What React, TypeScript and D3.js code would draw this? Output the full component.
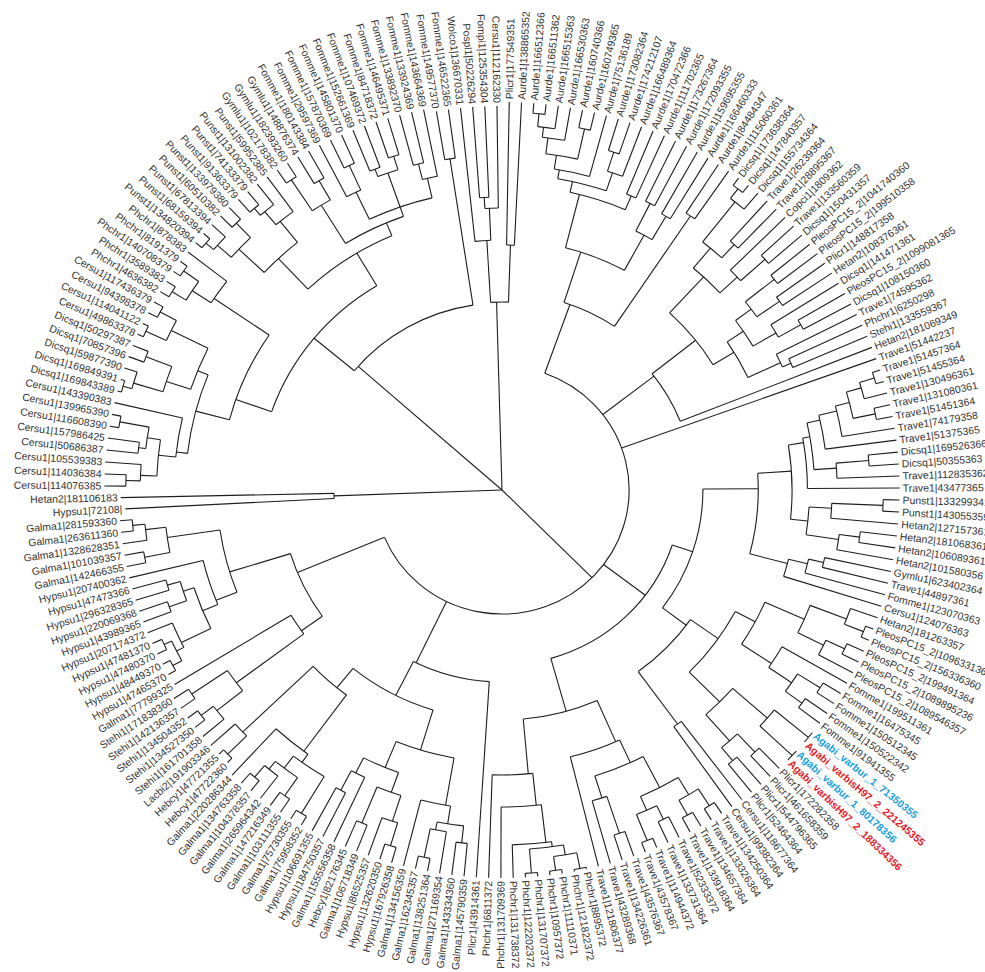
import React from 'react';
import * as d3 from 'd3';

const leafNames: string[] = [
  'Cersu1|114076385','Cersu1|114036384','Cersu1|105539383','Cersu1|50686387','Cersu1|157986425','Cersu1|116608390','Cersu1|139965390','Cersu1|143390383',
  'Dicsq1|169843389','Dicsq1|169849391','Dicsq1|59877390','Dicsq1|70857396','Dicsq1|50297387','Cersu1|49863378','Cersu1|114041122','Cersu1|94398378','Cersu1|117436379',
  'Phchr1|4636382','Phchr1|3589383','Phchr1|140708379','Phchr1|8191379','Phchr1|878383',
  'Punst1|134820394','Punst1|68159394','Punst1|67813394','Punst1|60510382','Punst1|133979380','Punst1|91363379','Punst1|74133379','Punst1|131002382','Punst1|59952385',
  'Gymlu1|102178382','Gymlu1|182393260','Gymlu1|148876374','Fomme1|180143384',
  'Fomme1|29597369','Fomme1|157870369','Fomme1|145801370','Fomme1|152661369','Fomme1|107469372','Fomme1|84718372','Fomme1|146495371','Fomme1|133892370','Fomme1|133924369','Fomme1|143664369','Fomme1|149577370','Fomme1|146522365',
  'Wolco1|136670331','Pospl1|50226294','Fompi1|125354304','Cersu1|112162330','Plicr1|177549351',
  'Aurde1|138865352','Aurde1|166512366','Aurde1|166511362','Aurde1|166515363','Aurde1|166530363','Aurde1|160740366','Aurde1|160749365','Aurde1|75136189','Aurde1|173082364','Aurde1|174212107','Aurde1|166489364','Aurde1|170472366','Aurde1|111702365','Aurde1|173267364','Aurde1|172093355','Aurde1|159695355','Aurde1|166460333','Aurde1|84484347','Aurde1|115060361',
  'Dicsq1|173638364','Dicsq1|147840357','Dicsq1|155734364','Trave1|26239364','Trave1|28895367','Copci1|1809362','Trave1|133560359','Dicsq1|150431357','PleosPC15_2|1041740360','PleosPC15_2|199510358','Plicr1|148817358','Hetan2|108376361','Dicsq1|141471361','PleosPC15_2|1099081365','Dicsq1|108150360','Trave1|74595362','Phchr1|6250298','Stehi1|133559367','Hetan2|181069349',
  'Trave1|51442237','Trave1|51457364','Trave1|51455364','Trave1|130496361','Trave1|131080361','Trave1|51451364','Trave1|74179358','Trave1|51375365','Dicsq1|169526366','Dicsq1|50355363','Trave1|112835362','Trave1|43477365',
  'Punst1|133299341','Punst1|143055359','Hetan2|127157361','Hetan2|181068361','Hetan2|106089361','Hetan2|101580356','Gymlu1|623402364','Trave1|44897361','Fomme1|123070363','Cersu1|124076363',
  'Hetan2|181263357','PleosPC15_2|1096331360','PleosPC15_2|156336360','PleosPC15_2|199491364','PleosPC15_2|1089895236','PleosPC15_2|1089546357','Fomme1|199511361','Fomme1|16475345','Fomme1|150512345','Fomme1|150522342','Fomme1|91941355',
  'Agabi_varbur_1_71350355','Agabi_varbisH97_2_221245355','Agabi_varbur_1_80178356','Agabi_varbisH97_2_188334356',
  'Plicr1|172282358','Plicr1|461658359','Plicr1|544796365','Plicr1|52464364','Cersu1|118677364','Cersu1|99382364',
  'Trave1|134250364','Trave1|133326364','Trave1|134657364','Trave1|133918364','Trave1|52333372','Trave1|133731364','Trave1|114944372','Trave1|43578367','Trave1|43576367','Trave1|134226361','Trave1|43289368','Trave1|121806377',
  'Phchr1|8895372','Phchr1|121822372','Phchr1|11110371','Phchr1|10957372','Phchr1|131707372','Phchr1|122202372','Phchr1|131738372','Phchr1|131709369','Phchr1|6811372',
  'Plicr1|43914361','Galma1|145790359','Galma1|143334360','Galma1|271169354','Galma1|138251364','Galma1|162345357','Galma1|134156359','Hypsu1|167926358','Hypsu1|132620350','Hypsu1|86525357','Galma1|106718349','Hebcy1|82176345','Galma1|155556358','Hypsu1|184750357','Hypsu1|106691355',
  'Galma1|75958352','Galma1|75730355','Galma1|103111355','Galma1|147216349','Galma1|265964342','Galma1|104378357','Galma1|134763358','Galma1|220286344','Hebcy1|47722360','Hebcy1|47721355','Lacbi2|191903346',
  'Stehi1|161701358','Stehi1|134527350','Stehi1|134504352','Stehi1|142136357','Stehi1|171838360','Galma1|77799325',
  'Hypsu1|47465370','Hypsu1|48449370','Hypsu1|47480370','Hypsu1|47481370','Hypsu1|207174372','Hypsu1|43989365','Hypsu1|220069368','Hypsu1|296328365','Hypsu1|47473366','Hypsu1|207400362',
  'Galma1|142466355','Galma1|101039357','Galma1|1328628351','Galma1|263611360','Galma1|281593360','Hypsu1|72108|','Hetan2|181106183'
];

const blueLeaves: string[] = ['Agabi_varbur_1_71350355', 'Agabi_varbur_1_80178356'];
const redLeaves: string[] = ['Agabi_varbisH97_2_221245355', 'Agabi_varbisH97_2_188334356'];

// tip depth of leaves that end short of the common tip line: [first leaf, last leaf, depth]
const shortTips: [number, number, number][] = [
  [46, 51, 384],
  [178, 185, 382],
  [186, 201, 374],
  [202, 202, 368],
  [203, 203, 372],
];

// clades: leaf numbers (1-based), internal node depth after ':'
const cladeCersu = '(8,((3,(1,2):367):353,((4,5):357,(6,7):379):350):337):320';
const cladeDicsq = '((((9,10):384,11):375,(12,13):372):345,((14,15):382,(16,17):378):360):320';
const cladePhchr = '(((18,19):378,(20,21):380):362,22):340';
const cladePunst = '((((23,24):380,25):370,(26,27):372):352,(((28,29):371,30):362,31):345):318';
const cladeGymlu = '((32,33):372,(34,35):357):335';
const cladeFomme = '((36,(37,38):357):330,((39,40):344,(41,42):350):336,((43,44):336,45):320):300';
const cladeA = '(((' + cladeCersu + ',' + cladeDicsq + '):309,' + cladePhchr + '):275,(' + cladePunst + ',(' + cladeGymlu + ',' + cladeFomme + '):290):276):238';
const cladeTopLeft = '(' + cladeA + ',(46,47):335):187';
const cladeTop = '((48,((49,50):293,51):282):250,(52,53):245):188';
const cladeAurde = '((((((54,55):378,56):365,57):355,(58,59):370):339,60):325,((61,62):355,63):335):316';
const cladeAurdeAll = '((((' + cladeAurde + ',(64,65):320):305,((66,67):321,(68,69):317):290):250,(70,71):330):197';
const cladeDicsqA = '((((72,73):379,74):367,(75,76):334):316,(77,(78,79):345):313):290';
const cladeDicsqB = '((((80,81):339,(82,83):330):303,(84,(85,86):335):310):284,(87,(88,89):309):300):265';
const cladeUpperRight = '((' + cladeDicsqA + ',' + cladeDicsqB + '):241,90):187';
const cladeTrave = '(((((((92,93):380,94):365,(95,96):372):350,97):336,98):318,((99,100):359,101):327):305,102):298';
const cladePH = '(((103,104):372,105):322,((106,107):352,108):332):300';
const cladeLadder = '(((109,110):322,111):307,112):288';
const cladeR = '((' + cladeTrave + ',' + cladePH + '):283,' + cladeLadder + '):250';
const cladePleos = '(((113,(114,115):380):360,((116,117):370,118):350):322,(119,((120,121):368,(122,123):362):342):315):280';
const cladeAgabi = '(((124,125):388,(126,127):388):345,((128,129):360,(130,131):352):335):300';
const cladeBR = '((' + cladePleos + ',' + cladeAgabi + '):258,(132,133):290):225';
const cladeT134 = '(((((134,135):375,(136,137):372):355,((138,139):365,(140,141):378):350):335,((142,143):362,144):323):300,145):275';
const cladePh146 = '((((((146,147):386,(148,149):384):370,(150,151):384):360,152):355,153):317,154):285';
const cladeBottomRight = '(((' + cladeR + ',' + cladeBR + '):196,(' + cladeT134 + ',' + cladePh146 + '):230):175)';
const cladeG156 = '(((156,157):355,(158,(159,160):375):346):338,161):320';
const cladeH162 = '((((162,163):372,164):348,(165,166):360):321,(167,(168,169):339):317):300';
const cladeG170 = '((((170,171):378,((172,173):372,(174,(175,176):375):360):350):335,177):325,((178,179):376,180):350):255';
const cladeBottomLeft = '(155,((' + cladeG156 + ',' + cladeH162 + '):272,' + cladeG170 + '):230):192';
const cladeSt = '((181,(182,183):370):355,(184,185):365):323';
const cladeHy = '(((((187,188):366,(189,190):364):356,191):348,((192,193):345,(194,195):340):327):316,196):300';
const cladeGa = '((197,198):355,(199,(200,201):362):350):330';
const cladeLeft = '((' + cladeSt + ',186):241,(' + cladeHy + ',' + cladeGa + '):278):216';
const ingroup = '(' + [cladeTopLeft, cladeTop, cladeAurdeAll, cladeUpperRight, '91', cladeBottomRight, cladeBottomLeft, cladeLeft].join(',') + '):124';
const treeString = '(' + ingroup + ',(202,203):164):0';

const TIP = 388;

type TNode = { children?: TNode[]; leaf?: number; depth: number };

function tipDepth(leaf: number): number {
  const s = shortTips.find(([a, b]) => leaf >= a && leaf <= b);
  return s ? s[2] : TIP;
}

function parseTree(src: string): TNode {
  const s = src.replace(/\s+/g, '');
  let i = 0;
  const num = () => {
    const j = i;
    while (i < s.length && /[0-9.]/.test(s[i])) i++;
    return parseFloat(s.slice(j, i));
  };
  const node = (): TNode => {
    if (s[i] === '(') {
      i++;
      const children = [node()];
      while (s[i] === ',') { i++; children.push(node()); }
      i++;
      let depth = 0;
      if (s[i] === ':') { i++; depth = num(); }
      if (children.length === 1 && !children[0].leaf) return children[0];
      return { children, depth };
    }
    const leaf = num();
    return { leaf, depth: tipDepth(leaf) };
  };
  return node();
}

const CX = 502;
const CY = 490;
const SX = 1.025;

export default function App() {
  const n = leafNames.length;
  const angle = d3.scaleLinear().domain([0, n]).range([180.6, 540.6]);
  const radius = d3.scaleLinear().domain([0, TIP]).range([0, TIP]);
  const root: any = d3.hierarchy(parseTree(treeString), (d: TNode) => d.children);
  root.eachAfter((nd: any) => {
    if (!nd.children) {
      nd.a = angle(nd.data.leaf - 1);
      nd.lo = nd.a; nd.hi = nd.a;
    } else {
      nd.lo = d3.min(nd.children, (c: any) => c.lo);
      nd.hi = d3.max(nd.children, (c: any) => c.hi);
      nd.a = (nd.lo + nd.hi) / 2;
    }
    nd.r = radius(nd.data.depth);
  });
  const pt = (a: number, r: number) => {
    const t = (a * Math.PI) / 180;
    return [CX + SX * r * Math.cos(t), CY + r * Math.sin(t)];
  };
  const paths: string[] = [];
  root.each((nd: any) => {
    if (!nd.children) return;
    const angs = nd.children.map((c: any) => c.a).concat([nd.a]);
    const a1 = d3.min(angs) as number;
    const a2 = d3.max(angs) as number;
    if (nd.r > 0 && a2 > a1) {
      const [x1, y1] = pt(a1, nd.r);
      const [x2, y2] = pt(a2, nd.r);
      paths.push(`M${x1},${y1}A${nd.r * SX},${nd.r} 0 ${a2 - a1 > 180 ? 1 : 0} 1 ${x2},${y2}`);
    }
    nd.children.forEach((c: any) => {
      const [x1, y1] = pt(c.a, nd.r);
      const [x2, y2] = pt(c.a, c.r);
      paths.push(`M${x1},${y1}L${x2},${y2}`);
    });
  });
  const leaves = root.leaves();
  return (
    <svg width={985} height={972} style={{ position: 'absolute', left: 0, top: 0, display: 'block', background: '#fff' }}>
      <g fill="none" stroke="#1e1e1e" strokeWidth={1.1}>
        {paths.map((p, k) => <path key={k} d={p} />)}
      </g>
      <g fontFamily="'Liberation Sans', Arial, sans-serif" fontSize={10.4}>
        {leaves.map((l: any, k: number) => {
          const name = leafNames[l.data.leaf - 1];
          const a = ((l.a % 360) + 360) % 360;
          const flip = a > 90 && a < 270;
          const blue = blueLeaves.includes(name);
          const red = redLeaves.includes(name);
          const [x, y] = pt(l.a, l.r + 3);
          return (
            <text
              key={k}
              transform={`translate(${x},${y}) rotate(${flip ? l.a + 180 : l.a})`}
              textAnchor={flip ? 'end' : 'start'}
              dy="0.35em"
              fill={blue ? '#1aa0dc' : red ? '#e3202a' : '#333'}
              fontWeight={blue || red ? 'bold' : 'normal'}
            >
              {name}
            </text>
          );
        })}
      </g>
    </svg>
  );
}
